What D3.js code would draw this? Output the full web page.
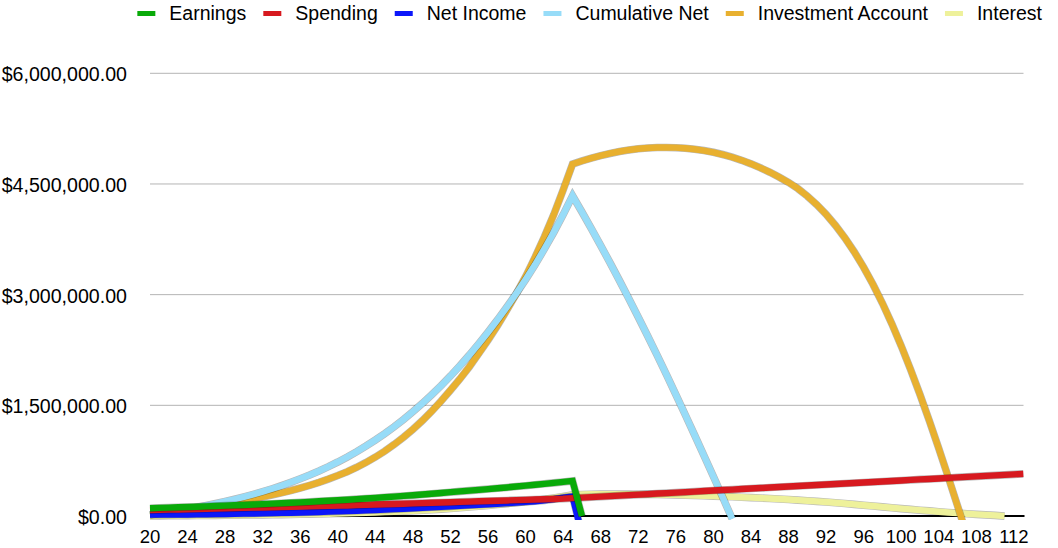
<!DOCTYPE html>
<html>
<head>
<meta charset="utf-8">
<script src="https://cdn.jsdelivr.net/npm/d3@7"></script>
<style>
  body { margin: 0; background: #fff; }
  svg { display: block; font-family: Helvetica, Arial, "Liberation Sans", sans-serif; }
</style>
</head>
<body>
<svg id="chart"></svg>
<script>
// ages on the x axis (one point per year)
var ages = d3.range(20, 114);
var xTicks = [20,24,28,32,36,40,44,48,52,56,60,64,68,72,76,80,84,88,92,96,100,104,108,112];
var yTicks = [0, 1500000, 3000000, 4500000, 6000000];

// values in thousands of dollars, starting at age 20
var earnings = [106,110,114,118,122,126,130,135,140,145,150,155,161,167,173,179,185,192,199,206,213,221,229,237,245,254,263,272,282,292,302,312,323,334,344,354,365,376,387,399,411,423,436,449,462,476,0];
var spending = [80,83,86,89,92,95,98,101,104,107,110,113,116,119,122,125,128,131,134,137,140,143,
  147,151,155,159,163,167,171,175,179,183,187,191,195,199,203,207,211,215,219,223,227,231,235,
  242,249,256,262,269,276,283,290,297,304,310,317,324,331,338,345,352,358,365,372,379,386,393,400,406,413,420,427,434,441,448,454,461,468,475,482,489,496,502,509,516,523,530,537,544,550,557,564,571];
var netIncome = [18,18,19,20,21,23,24,26,28,30,32,34,37,39,42,45,48,51,55,59,63,67,72,77,82,87,93,99,105,111,118,124,131,138,145,152,159,166,174,182,191,200,211,228,250,265,-249];
var cumulativeNet = [18,36,55,75,96,119,143,169,197,227,259,293,330,369,411,456,504,555,610,669,732,799,871,948,1030,1117,1210,1309,1414,1525,1643,1767,1898,2036,2181,2333,2492,2658,2832,3014,3205,3405,3620,3845,4085,4340,
  4120,3895,3665,3430,3190,2945,2695,2440,2180,1915,1645,1372,1096,817,535,250,-38];
var investment = [16,32,49,66,84,103,123,143,164,186,209,233,258,285,314,345,379,416,456,500,548,600,660,725,798,880,970,1068,1175,1292,1420,1558,1705,1857,2020,2200,2385,2580,2790,3010,3245,3505,3785,4085,4420,4770,
  4812,4850,4884,4914,4940,4961,4977,4988,4994,4995,4992,4984,4971,4953,4929,4899,4863,4821,4773,4719,4659,4593,4521,4436,4336,4220,4088,3938,3769,3580,3370,3138,2883,2605,2305,1984,1644,1287,915,531,137,-265];
var interest = [1,2,3,4,5,6,7,9,10,11,13,14,15,17,19,21,23,25,27,30,33,36,40,44,48,53,58,64,71,78,85,93,102,111,121,132,143,155,167,181,195,210,227,245,265,286,
  291,294,296,297,297,296,295,293,291,289,286,282,278,274,270,265,260,255,249,243,237,230,223,215,207,198,189,180,170,158,146,135,124,112,100,90,79,69,58,48,39,30,22,15,8,-2];

var seriesNames = ["Earnings", "Spending", "Net Income", "Cumulative Net", "Investment Account", "Interest"];
var seriesColors = ["#09aa09", "#d7191f", "#0c17fa", "#97dcf8", "#e8b02f", "#eef19b"];
var seriesValues = [earnings, spending, netIncome, cumulativeNet, investment, interest];

var svgWidth = 1058, svgHeight = 548;

var svg = d3.select('#chart')
    .attr('width', svgWidth)
    .attr('height', svgHeight);

var xScale = d3.scaleLinear()
    .domain([20, 113])
    .range([150, 1023.3]);

var yScale = d3.scaleLinear()
    .domain([0, 6000000])
    .range([516, 73.3]);

var fmt = d3.format("$,.2f");

// grid lines
svg.selectAll(".grid")
    .data(yTicks.filter(function(d){ return d > 0; }))
    .enter()
    .append("line")
    .attr("class", "grid")
    .attr("x1", 150)
    .attr("x2", 1023.5)
    .attr("y1", function(d){ return yScale(d); })
    .attr("y2", function(d){ return yScale(d); })
    .attr("stroke", "#b4b4b4")
    .attr("stroke-width", 1);

// y labels
svg.selectAll(".ylab")
    .data(yTicks)
    .enter()
    .append("text")
    .attr("class", "ylab")
    .attr("x", 127)
    .attr("y", function(d){ return yScale(d) + 8; })
    .attr("text-anchor", "end")
    .attr("font-size", "19.6px")
    .attr("fill", "#000")
    .text(function(d){ return fmt(d); });

// x labels
svg.selectAll(".xlab")
    .data(xTicks)
    .enter()
    .append("text")
    .attr("class", "xlab")
    .attr("x", function(d){ return xScale(d); })
    .attr("y", 543)
    .attr("text-anchor", "middle")
    .attr("font-size", "18.5px")
    .attr("fill", "#000")
    .text(function(d){ return d; });

// x axis line
svg.append("line")
    .attr("x1", 150)
    .attr("x2", 1024.5)
    .attr("y1", yScale(0))
    .attr("y2", yScale(0))
    .attr("stroke", "#000")
    .attr("stroke-width", 2);

svg.append("clipPath")
    .attr("id", "plotclip")
    .append("rect")
    .attr("x", 140)
    .attr("y", 0)
    .attr("width", 900)
    .attr("height", 520);

var line = d3.line()
    .x(function(d, i){ return xScale(ages[i]); })
    .y(function(d){ return yScale(d * 1000); });

var plot = svg.append("g").attr("clip-path", "url(#plotclip)");

// first series is drawn on top, so draw in reverse order
for (var k = seriesValues.length - 1; k >= 0; k--) {
    plot.append("path")
        .attr("d", line(seriesValues[k]))
        .attr("fill", "none")
        .attr("stroke", "rgba(0,0,0,0.28)")
        .attr("stroke-width", 7.6)
        .attr("stroke-linejoin", "miter");
    plot.append("path")
        .attr("d", line(seriesValues[k]))
        .attr("fill", "none")
        .attr("stroke", seriesColors[k])
        .attr("stroke-width", 6.4)
        .attr("stroke-linejoin", "miter");
}

// legend, laid out left to right and right aligned
var legend = svg.append("g");
var lx = 0;
seriesNames.forEach(function(name, i){
    var g = legend.append("g").attr("transform", "translate(" + lx + ",0)");
    g.append("rect")
        .attr("x", 0)
        .attr("y", 11)
        .attr("width", 18)
        .attr("height", 5)
        .attr("fill", seriesColors[i]);
    var t = g.append("text")
        .attr("x", 32)
        .attr("y", 20)
        .attr("font-size", "19.5px")
        .attr("fill", "#000")
        .text(name);
    lx += 32 + t.node().getComputedTextLength() + 17;
});
var legendWidth = lx - 17;
legend.attr("transform", "translate(" + (1042 - legendWidth) + ",0)");
</script>
</body>
</html>
